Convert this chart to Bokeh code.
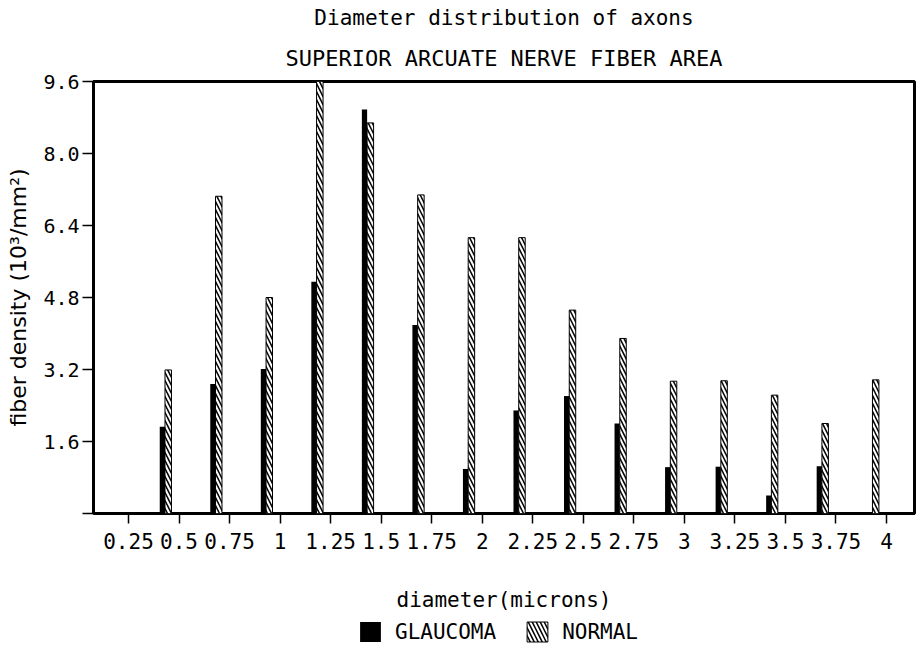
from bokeh.plotting import figure
from bokeh.layouts import column
from bokeh.models import Range1d, FixedTicker, Legend, LegendItem, Title, ColumnDataSource
from bokeh.embed import file_html
from bokeh.resources import INLINE

# ---- data ----
diameters = [0.25, 0.5, 0.75, 1.0, 1.25, 1.5, 1.75, 2.0, 2.25, 2.5, 2.75, 3.0, 3.25, 3.5, 3.75, 4.0]
x_tick_labels = ["0.25", "0.5", "0.75", "1", "1.25", "1.5", "1.75", "2",
                 "2.25", "2.5", "2.75", "3", "3.25", "3.5", "3.75", "4"]
glaucoma = [0.0, 1.93, 2.88, 3.21, 5.15, 8.98, 4.19, 0.99, 2.29, 2.61, 2.0, 1.03, 1.04, 0.4, 1.05, 0.0]
normal = [0.0, 3.19, 7.05, 4.8, 9.6, 8.68, 7.08, 6.13, 6.13, 4.52, 3.89, 2.94, 2.95, 2.63, 2.0, 2.97]
y_ticks = [0.0, 1.6, 3.2, 4.8, 6.4, 8.0, 9.6]
y_tick_labels = ["", "1.6", "3.2", "4.8", "6.4", "8.0", "9.6"]
series_names = ["GLAUCOMA", "NORMAL"]

title_1 = "Diameter distribution of axons"
title_2 = "SUPERIOR ARCUATE NERVE FIBER AREA"
x_label = "diameter(microns)"
y_label = "fiber density (10\u00b3/mm\u00b2)"

# bar placement relative to each tick (styling)
G_OFF, G_W = -0.0825, 0.026
N_OFF, N_W = -0.0535, 0.032

src = ColumnDataSource(dict(
    xg=[d + G_OFF for d in diameters],
    xn=[d + N_OFF for d in diameters],
    g=glaucoma, n=normal,
))

MONO = "DejaVu Sans Mono"
G_STYLE = dict(fill_color="black", line_color=None)
N_STYLE = dict(fill_color="white", line_color="black", line_width=1,
               hatch_pattern="\\", hatch_color="black", hatch_scale=8, hatch_weight=1.5)

p = figure(width=916, height=614,
           x_range=Range1d(0.0768, 4.1385), y_range=Range1d(0, 9.6),
           output_backend="svg", toolbar_location=None, title=None,
           min_border_left=93, min_border_right=2, min_border_top=80, min_border_bottom=97)

p.add_layout(Title(text=title_2, align="center", text_font=MONO, text_font_size="22px",
                   text_font_style="normal", text_color="black", standoff=22), "above")
p.add_layout(Title(text=title_1, align="center", text_font=MONO, text_font_size="21px",
                   text_font_style="normal", text_color="black", standoff=6), "above")

p.vbar(x="xg", top="g", width=G_W, source=src, **G_STYLE)
p.vbar(x="xn", top="n", width=N_W, source=src, **N_STYLE)

p.grid.visible = False
p.outline_line_color = "black"
p.outline_line_width = 3
p.background_fill_color = "white"
p.border_fill_color = "white"

xa = p.xaxis[0]
xa.ticker = FixedTicker(ticks=diameters, minor_ticks=[])
xa.major_label_overrides = {d: l for d, l in zip(diameters, x_tick_labels)}
xa.axis_line_color = None
xa.major_tick_in = 0
xa.major_tick_out = 10
xa.major_tick_line_width = 1.5
xa.major_tick_line_color = "black"
xa.minor_tick_line_color = None
xa.major_label_text_font = MONO
xa.major_label_text_font_size = "21px"
xa.major_label_text_color = "black"
xa.major_label_standoff = 9
xa.axis_label = x_label
xa.axis_label_text_font = MONO
xa.axis_label_text_font_size = "21px"
xa.axis_label_text_font_style = "normal"
xa.axis_label_text_color = "black"
xa.axis_label_standoff = 36

ya = p.yaxis[0]
ya.ticker = FixedTicker(ticks=y_ticks, minor_ticks=[])
ya.major_label_overrides = {t: l for t, l in zip(y_ticks, y_tick_labels)}
ya.axis_line_color = None
ya.major_tick_in = 0
ya.major_tick_out = 11
ya.major_tick_line_width = 1.5
ya.major_tick_line_color = "black"
ya.minor_tick_line_color = None
ya.major_label_text_font = MONO
ya.major_label_text_font_size = "20px"
ya.major_label_text_color = "black"
ya.major_label_standoff = 3
ya.axis_label = y_label
ya.axis_label_text_font = "DejaVu Sans"
ya.axis_label_text_font_size = "22px"
ya.axis_label_text_font_style = "normal"
ya.axis_label_text_color = "black"
ya.axis_label_standoff = 9

# ---- legend strip below the chart (its frame is aligned with the chart frame) ----
lf = figure(width=916, height=31, x_range=Range1d(0, 1), y_range=Range1d(0, 1),
            output_backend="svg", toolbar_location=None, title=None,
            x_axis_location=None, y_axis_location=None, min_border=0)
lf.grid.visible = False
lf.outline_line_color = None
lf.background_fill_color = "white"
lf.border_fill_color = "white"
# legend-only renderers: their single bar lies below the visible range
lg = lf.vbar(x=[0.5], bottom=[-3], top=[-2], width=0.01, **G_STYLE)
ln = lf.vbar(x=[0.5], bottom=[-3], top=[-2], width=0.01, **N_STYLE)
legend = Legend(items=[LegendItem(label=series_names[0], renderers=[lg]),
                       LegendItem(label=series_names[1], renderers=[ln])],
                orientation="horizontal", location=(264, 1),
                label_text_font=MONO, label_text_font_size="21px", label_text_color="black",
                glyph_width=26, glyph_height=25, label_height=25, label_standoff=12, spacing=28,
                border_line_color=None, background_fill_alpha=0, padding=0, margin=0)
lf.add_layout(legend)

open("out.html", "w").write(file_html(column(p, lf, spacing=0), INLINE))
